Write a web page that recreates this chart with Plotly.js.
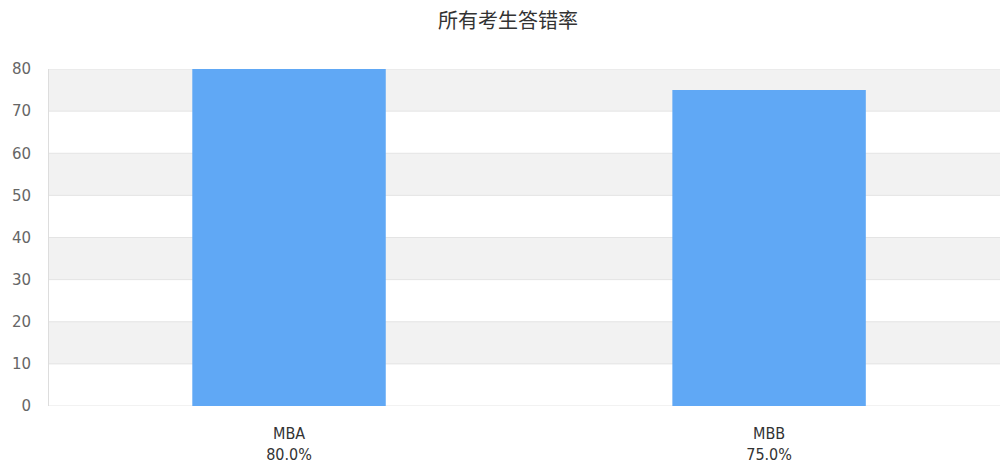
<!DOCTYPE html>
<html>
<head>
<meta charset="utf-8">
<script src="https://cdn.plot.ly/plotly-3.0.1.min.js"></script>
<style>html,body{margin:0;padding:0;overflow:hidden;background:#fff}</style>
</head>
<body>
<div id="chart" style="width:1000px;height:469px"></div>
<script>
const categories = ['MBA', 'MBB'];
const errorRates = [80.0, 75.0];
const yTicks = [0, 10, 20, 30, 40, 50, 60, 70, 80];
const titleText = '所有考生答错率';

const tickLabels = categories.map((c, i) => c + '<br>' + errorRates[i].toFixed(1) + '%');

const shapes = [];
for (let i = 0; i < yTicks.length - 1; i++) {
  if (i % 2 === 1) {
    shapes.push({type: 'rect', xref: 'paper', yref: 'y', x0: 0, x1: 1,
      y0: yTicks[i], y1: yTicks[i + 1], fillcolor: '#f2f2f2', line: {width: 0}, layer: 'below'});
  }
}
yTicks.forEach(v => shapes.push({type: 'line', xref: 'paper', yref: 'y', x0: 0, x1: 1,
  y0: v, y1: v, line: {color: '#e4e4e4', width: 1}, layer: 'below'}));

const trace = {
  type: 'bar',
  x: [0, 1],
  y: errorRates,
  width: 0.403,
  marker: {color: '#60a8f5'},
  hoverinfo: 'none'
};

const layout = {
  width: 1000, height: 469,
  margin: {l: 49, r: 0, t: 69, b: 63},
  paper_bgcolor: '#ffffff',
  plot_bgcolor: '#ffffff',
  title: {text: titleText, x: 0.508, xanchor: 'center', y: 0.955, yanchor: 'middle',
    font: {family: 'Noto Sans CJK SC, sans-serif', size: 20, color: '#333333'}},
  xaxis: {
    range: [-0.5, 1.481],
    tickmode: 'array', tickvals: [0, 1], ticktext: tickLabels,
    showgrid: false, zeroline: false,
    showline: false, ticks: '', ticklabelstandoff: 16,
    tickfont: {family: 'DejaVu Sans Condensed, sans-serif', size: 16, color: '#333333'}
  },
  yaxis: {
    range: [0, 80],
    tickmode: 'array', tickvals: yTicks,
    showgrid: false, zeroline: false,
    showline: true, linecolor: '#dddddd', linewidth: 1,
    ticks: '', ticklabelstandoff: 14,
    tickfont: {family: 'DejaVu Sans, sans-serif', size: 15, color: '#666666'}
  },
  shapes: shapes,
  showlegend: false
};

Plotly.newPlot('chart', [trace], layout, {displayModeBar: false, staticPlot: true});
</script>
</body>
</html>
